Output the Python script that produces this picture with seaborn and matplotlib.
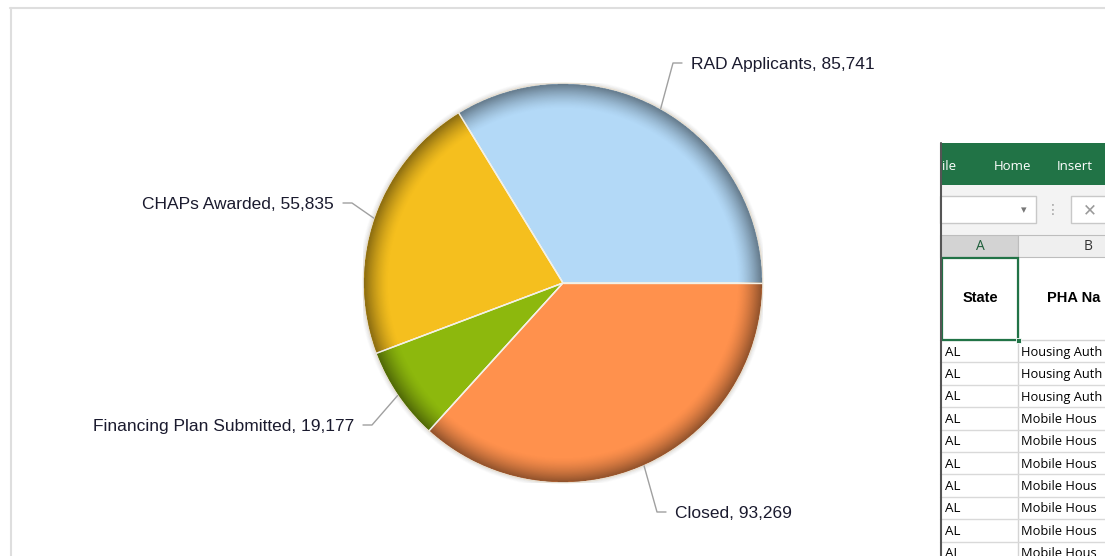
import numpy as np
import matplotlib
matplotlib.use("Agg")
import matplotlib.pyplot as plt
import seaborn as sns
from matplotlib.patches import Rectangle, Circle

# ---------------- data ----------------
categories = ["RAD Applicants", "CHAPs Awarded", "Financing Plan Submitted", "Closed"]
values = [85741, 55835, 19177, 93269]
colors = ["#B3D9F7", "#F5BF1E", "#8DB80D", "#FF914D"]

# spreadsheet fragment shown on the right (only the visible part of each cell)
ribbon_tabs = ["ile", "Home", "Insert"]
col_headers = ["A", "B"]
header_cells = ["State", "PHA Na"]
state_col = ["AL"] * 10
pha_col = ["Housing Auth", "Housing Auth", "Housing Auth", "Mobile Hous", "Mobile Hous",
           "Mobile Hous", "Mobile Hous", "Mobile Hous", "Mobile Hous", "Mobile Hous"]

sns.set_theme(style="white")
plt.rcParams['font.family'] = ['Liberation Sans', 'DejaVu Sans']

W, H = 1105, 556
fig = plt.figure(figsize=(W / 100, H / 100), dpi=100)
fig.patch.set_facecolor("white")

# ---------------- background / frame / spreadsheet (pixel coords) ----------------
bg = fig.add_axes([0, 0, 1, 1])
bg.set_xlim(0, W)
bg.set_ylim(H, 0)
bg.axis("off")
bg.plot([10, W], [7.5, 7.5], color="#dedede", lw=1.5)
bg.plot([10.5, 10.5], [7.5, H], color="#dedede", lw=1.5)

xl_font = ["Open Sans", "DejaVu Sans"]
px0 = 940
bg.add_patch(Rectangle((px0, 143), W - px0, H - 143, facecolor="white", edgecolor="none", zorder=2))
bg.add_patch(Rectangle((px0, 143), W - px0, 42, facecolor="#217346", edgecolor="none", zorder=3))
for txt, x in zip(ribbon_tabs, [942, 994, 1057]):
    bg.text(x, 167, txt, color="white", fontsize=9.5, va="center", ha="left", zorder=4, family=xl_font)
bg.add_patch(Rectangle((px0, 185), W - px0, 50, facecolor="#f3f3f3", edgecolor="none", zorder=3))
bg.add_patch(Rectangle((px0, 196), 96, 27, facecolor="white", edgecolor="#c8c8c8", lw=1, zorder=4))
bg.text(1024, 210, "\u25BE", color="#777777", fontsize=8, ha="center", va="center", zorder=5,
        family=["DejaVu Sans"])
bg.text(1053, 210, "\u22EE", color="#a0a0a0", fontsize=10, ha="center", va="center", zorder=5,
        family=["DejaVu Sans"])
bg.add_patch(Rectangle((1071, 196), 40, 27, facecolor="white", edgecolor="#c8c8c8", lw=1, zorder=4))
bg.text(1090, 210, "\u2715", color="#9a9a9a", fontsize=12, ha="center", va="center", zorder=5,
        family=["DejaVu Sans"])

# column header row
bg.add_patch(Rectangle((px0, 235), 78, 22, facecolor="#d3d3d3", edgecolor="#bdbdbd", lw=0.8, zorder=3))
bg.add_patch(Rectangle((1018, 235), W - 1018 + 5, 22, facecolor="#efefef", edgecolor="#bdbdbd", lw=0.8, zorder=3))
bg.text(980, 246.5, col_headers[0], color="#1e5e3a", fontsize=10, ha="center", va="center", zorder=5,
        family=xl_font)
bg.text(1088, 246.5, col_headers[1], color="#333333", fontsize=10, ha="center", va="center", zorder=5,
        family=xl_font)

# header row cells
bg.plot([px0, W], [340, 340], color="#d4d4d4", lw=1, zorder=3)
bg.plot([1018, 1018], [257, H], color="#d4d4d4", lw=1, zorder=3)
bg.text(980.5, 298.5, header_cells[0], fontsize=10.5, fontweight="bold", ha="center", va="center",
        color="black", zorder=5)
bg.text(1047, 298.5, header_cells[1], fontsize=10.5, fontweight="bold", ha="left", va="center",
        color="black", zorder=5)
bg.add_patch(Rectangle((942, 258), 76, 82, facecolor="none", edgecolor="#217346", lw=1.6, zorder=6))
bg.add_patch(Rectangle((1015.5, 337.5), 5, 5, facecolor="#217346", edgecolor="white", lw=0.6, zorder=7))

row_h = 22.4
for i, (s, p) in enumerate(zip(state_col, pha_col)):
    y0 = 340 + i * row_h
    bg.plot([px0, W], [y0 + row_h, y0 + row_h], color="#d9d9d9", lw=1, zorder=3)
    bg.text(945, y0 + row_h / 2 + 1, s, fontsize=9.6, ha="left", va="center", color="black", zorder=5,
            family=xl_font)
    bg.text(1021, y0 + row_h / 2 + 1, p, fontsize=9.3, ha="left", va="center", color="black", zorder=5,
            family=xl_font)
bg.plot([px0 + 0.5, px0 + 0.5], [143, H], color="#555555", lw=1.5, zorder=8)

# ---------------- pie ----------------
cx, cy, R = 563, 283, 200
ax = fig.add_axes([(cx - R) / W, (H - cy - R) / H, 2 * R / W, 2 * R / H])
ax.set_zorder(5)
ax.patch.set_alpha(0)

# soft shadow ring around the pie
for k, a in zip(range(4), [0.12, 0.08, 0.05, 0.03]):
    ax.add_patch(Circle((0, 0), 1.0 + 0.004 * (k + 1), facecolor="none",
                        edgecolor="#9a9a9a", lw=1.2, alpha=a))

wedges, _ = ax.pie(values, colors=colors, startangle=0, counterclock=True, radius=1.0,
                   wedgeprops=dict(edgecolor="#f4f1e6", linewidth=1.0))

# bevel: darker rim towards the outer edge (black overlay whose alpha grows with radius)
n = 600
g = np.linspace(-1, 1, n)
XX, YY = np.meshgrid(g, g)
RR = np.hypot(XX, YY)
rim_in = 0.87
t = np.clip((RR - rim_in) / (1 - rim_in), 0, 1) ** 1.5
alpha = 0.46 * t
alpha[RR > 0.997] = 0.15
alpha[RR > 1.0] = 0
overlay = np.zeros((n, n, 4))
overlay[..., 3] = alpha
im = ax.imshow(overlay, extent=(-1, 1, -1, 1), origin="lower", interpolation="bilinear", zorder=3)
im.set_clip_path(Circle((0, 0), 1.0, transform=ax.transData))

# light separator lines on top
for w in wedges:
    th = np.radians(w.theta1)
    ax.plot([0, np.cos(th)], [0, np.sin(th)], color="#f4f1e6", lw=1.0, zorder=4)
ax.add_patch(Circle((0, 0), 1.0, facecolor="none", edgecolor="#e6dfd4", lw=1.0, zorder=5))

# labels with leader lines: (elbow x, label y, side)
layout = [(0.55, 1.10, 1), (-1.055, 0.40, -1), (-0.955, -0.71, -1), (0.47, -1.145, 1)]
for w, name, v, (ex, ly, side) in zip(wedges, categories, values, layout):
    mid = np.radians((w.theta1 + w.theta2) / 2)
    sx, sy = np.cos(mid), np.sin(mid)
    hx = ex + side * 0.045
    ax.plot([sx, ex, hx], [sy, ly, ly], color="#a0a0a0", lw=1.0, clip_on=False, zorder=6)
    ax.text(hx + side * 0.045, ly - 0.008, f"{name}, {v:,}", ha="left" if side > 0 else "right",
            va="center", fontsize=12.5, color="#1a1a2e", clip_on=False)

ax.set_xlim(-1, 1)
ax.set_ylim(-1, 1)
ax.set_aspect("equal")
ax.axis("off")

fig.savefig("out.png", dpi=100)
